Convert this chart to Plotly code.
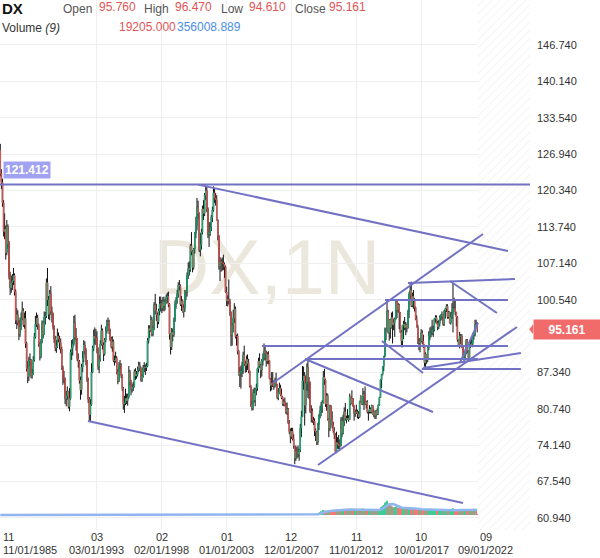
import pandas as pd
import plotly.graph_objects as go

# ---------------- data (monthly DX bars, Nov 1985 .. Jan 2022) ----------------
first_open = 127.6
close = [
    123.4, 121.8,
    118.1, 112.9, 113.3, 109.1, 113.8, 110.7, 104.8, 102.7, 103.6, 104.0, 104.9, 102.0,
    96.8, 97.8, 96.4, 94.3, 95.6, 97.1, 98.5, 96.0, 97.1, 92.6, 88.0, 86.6,
    89.4, 89.6, 86.8, 87.2, 89.6, 93.8, 96.1, 97.2, 95.9, 92.5, 90.2, 92.9,
    96.3, 94.2, 97.4, 97.6, 103.6, 100.5, 97.9, 101.6, 98.4, 97.8, 95.6, 93.4,
    91.8, 92.1, 93.9, 93.4, 92.8, 91.6, 88.2, 86.4, 86.1, 82.6, 83.1, 83.9,
    81.1, 82.6, 91.0, 91.8, 92.5, 96.3, 93.8, 93.5, 89.9, 89.3, 85.9, 84.2,
    88.3, 89.9, 92.3, 91.3, 89.4, 86.0, 82.5, 79.7, 81.5, 87.4, 91.7, 93.9,
    93.5, 93.6, 91.5, 88.4, 89.7, 92.5, 94.9, 92.3, 90.7, 93.2, 94.8, 96.2,
    96.5, 94.9, 93.3, 92.0, 92.9, 89.5, 89.4, 89.9, 87.4, 85.8, 88.5, 88.7,
    86.8, 84.4, 81.6, 81.8, 82.6, 82.2, 82.9, 87.4, 85.6, 84.3, 84.7, 84.8,
    87.5, 86.7, 87.0, 87.8, 88.6, 88.1, 86.0, 86.7, 88.2, 88.3, 88.2, 88.5,
    93.1, 95.3, 95.0, 96.9, 94.3, 95.4, 99.6, 98.6, 97.8, 96.6, 98.5, 99.7,
    99.8, 99.0, 100.2, 99.4, 100.1, 101.0, 101.1, 99.7, 94.3, 92.0, 94.6, 94.2,
    96.8, 99.7, 100.5, 101.6, 103.2, 103.0, 99.7, 100.3, 98.4, 99.0, 102.0, 101.9,
    105.0, 106.2, 106.0, 110.3, 109.3, 106.4, 109.7, 112.6, 114.0, 117.3, 116.2, 109.6,
    110.5, 112.8, 117.0, 116.2, 119.5, 120.3, 117.0, 112.4, 112.7, 113.7, 115.5, 116.8,
    119.9, 119.0, 118.7, 115.0, 112.0, 106.6, 107.4, 107.2, 107.2, 107.0, 106.5, 101.9,
    100.3, 100.6, 100.3, 98.3, 94.1, 95.9, 97.2, 98.8, 93.9, 93.9, 91.2, 86.9,
    87.3, 87.6, 87.6, 90.5, 88.9, 88.6, 89.7, 89.0, 87.6, 84.9, 81.6, 80.9,
    83.6, 82.3, 84.3, 84.6, 88.0, 89.4, 88.6, 87.8, 89.4, 90.0, 91.2, 90.9,
    89.4, 90.6, 89.5, 86.2, 85.0, 85.4, 85.2, 84.9, 85.9, 85.2, 82.8, 83.7,
    84.5, 83.3, 82.8, 81.6, 82.0, 81.4, 80.1, 80.7, 78.2, 76.6, 75.7, 76.7,
    75.3, 74.0, 71.8, 73.0, 72.9, 72.5, 73.3, 77.3, 79.3, 85.8, 86.7, 81.4,
    85.3, 88.3, 85.7, 85.6, 80.3, 80.3, 78.7, 78.5, 76.8, 76.5, 74.7, 77.9,
    79.5, 80.4, 81.2, 81.9, 86.5, 86.0, 81.6, 83.1, 78.9, 77.2, 81.2, 79.0,
    77.7, 76.7, 76.0, 73.0, 74.6, 74.3, 74.1, 74.1, 78.6, 76.3, 78.4, 80.2,
    79.0, 78.8, 79.0, 78.8, 83.0, 81.7, 82.6, 81.3, 79.9, 80.1, 80.2, 79.8,
    79.3, 82.1, 83.0, 81.6, 83.4, 83.1, 81.6, 82.0, 80.2, 80.2, 80.7, 80.2,
    81.3, 79.7, 80.1, 79.5, 80.4, 79.8, 81.5, 82.8, 86.0, 87.0, 88.4, 90.3,
    94.8, 95.3, 98.4, 94.6, 96.9, 95.5, 97.3, 96.0, 96.4, 97.0, 100.2, 98.7,
    99.6, 98.2, 94.6, 93.1, 95.9, 96.1, 95.5, 96.0, 95.4, 98.4, 101.5, 102.2,
    99.5, 101.1, 100.4, 99.1, 97.0, 95.6, 92.9, 92.7, 93.1, 94.5, 93.0, 92.1,
    89.1, 90.6, 89.9, 91.8, 94.0, 94.5, 94.5, 95.1, 95.1, 97.1, 97.3, 96.2,
    95.6, 96.2, 97.3, 97.5, 97.8, 96.1, 98.5, 98.9, 99.4, 97.4, 98.3, 96.4,
    97.4, 98.1, 99.0, 99.0, 98.3, 97.4, 93.3, 92.1, 93.9, 94.0, 91.9, 89.9,
    90.6, 90.9, 93.2, 91.3, 90.0, 92.4, 92.2, 92.6, 94.2, 94.1, 96.0, 95.76,
    95.161,
]
high = [
    128.8, 124.2,
    122.5, 118.6, 116.2, 114.0, 115.0, 114.2, 111.2, 105.6, 104.9, 105.2, 106.3, 105.3,
    102.4, 99.0, 98.6, 96.8, 97.3, 98.2, 100.2, 99.0, 98.2, 98.5, 92.9, 89.4,
    90.2, 90.8, 89.8, 88.0, 90.3, 94.5, 97.6, 98.2, 97.8, 96.2, 92.8, 93.4,
    96.8, 96.6, 98.4, 98.3, 104.4, 106.3, 101.2, 102.3, 103.0, 99.3, 98.2, 95.9,
    94.0, 93.2, 95.3, 94.6, 94.0, 93.5, 92.0, 88.6, 87.6, 86.4, 84.0, 84.8,
    84.0, 84.5, 91.5, 93.2, 93.4, 97.6, 97.8, 95.4, 93.6, 90.8, 89.6, 86.6,
    88.9, 91.2, 93.2, 93.0, 91.8, 89.6, 86.4, 82.9, 82.5, 89.0, 92.2, 95.1,
    95.5, 95.2, 94.8, 91.9, 90.5, 93.2, 96.0, 95.3, 92.8, 93.6, 95.7, 96.9,
    97.3, 96.9, 95.3, 93.8, 93.9, 93.3, 90.4, 91.1, 90.3, 87.9, 89.2, 89.6,
    89.0, 87.0, 84.7, 83.1, 84.4, 83.5, 83.5, 88.5, 87.8, 86.0, 85.3, 85.6,
    87.9, 88.1, 87.6, 88.4, 89.3, 89.2, 88.4, 87.0, 88.7, 89.2, 88.8, 89.1,
    93.6, 95.9, 95.9, 97.7, 97.4, 95.8, 100.1, 101.6, 99.8, 98.2, 98.9, 101.1,
    101.1, 100.5, 101.0, 101.1, 100.6, 101.5, 101.8, 102.0, 99.9, 94.4, 95.4, 95.3,
    97.3, 100.4, 101.0, 102.3, 103.7, 104.1, 103.3, 101.2, 100.6, 99.7, 102.3, 102.2,
    105.5, 107.3, 107.5, 110.6, 112.8, 109.5, 109.9, 112.8, 115.6, 119.0, 118.5, 116.4,
    112.6, 113.4, 117.6, 118.6, 119.9, 121.0, 121.2, 117.3, 114.6, 114.6, 115.9, 117.4,
    121.1, 120.7, 119.9, 119.5, 115.1, 112.3, 108.3, 108.0, 108.2, 108.7, 107.3, 106.7,
    102.9, 101.3, 104.2, 100.7, 98.4, 96.3, 98.7, 99.9, 99.3, 94.2, 94.4, 91.4,
    88.3, 88.6, 89.3, 91.1, 92.2, 89.4, 90.4, 90.6, 89.8, 87.7, 85.0, 82.1,
    84.3, 84.6, 84.5, 85.3, 88.2, 90.0, 90.8, 88.9, 89.8, 90.8, 92.6, 92.1,
    91.3, 91.0, 91.2, 89.5, 86.3, 87.4, 87.4, 85.9, 86.4, 87.3, 85.2, 84.5,
    85.5, 85.1, 84.4, 83.0, 82.5, 82.8, 81.8, 81.9, 80.9, 78.7, 77.2, 77.3,
    77.3, 76.1, 74.0, 74.1, 73.8, 74.1, 73.5, 78.0, 80.4, 88.5, 88.4, 87.4,
    86.8, 89.0, 89.6, 86.5, 85.6, 81.4, 80.8, 79.3, 79.0, 77.2, 76.7, 78.2,
    79.8, 81.3, 82.0, 82.3, 87.6, 88.0, 86.2, 83.6, 83.5, 79.0, 81.5, 81.4,
    80.3, 78.4, 77.4, 76.3, 76.6, 75.6, 76.0, 75.2, 79.2, 79.3, 79.7, 81.0,
    81.8, 79.5, 80.7, 79.6, 83.5, 83.0, 84.1, 82.7, 81.3, 80.6, 81.5, 80.6,
    80.3, 82.2, 83.2, 83.0, 84.5, 84.0, 84.8, 82.2, 82.3, 80.4, 81.4, 81.0,
    81.5, 81.4, 80.6, 80.3, 80.5, 80.8, 81.5, 82.9, 86.1, 87.0, 88.5, 90.3,
    95.5, 95.3, 100.4, 98.7, 97.0, 97.0, 98.2, 98.4, 97.0, 97.3, 100.5, 100.3,
    100.0, 99.8, 98.3, 95.0, 95.9, 96.7, 97.4, 96.5, 96.2, 98.7, 101.9, 103.6,
    103.8, 101.8, 102.3, 100.8, 99.3, 97.7, 96.0, 93.6, 93.6, 95.2, 95.0, 94.2,
    92.4, 91.0, 90.6, 91.9, 94.8, 95.5, 95.7, 96.9, 95.8, 97.2, 97.7, 97.7,
    96.7, 96.9, 97.7, 97.9, 98.4, 97.8, 98.7, 99.0, 99.7, 99.7, 98.5, 98.4,
    98.3, 99.9, 103.5, 100.9, 100.6, 98.3, 97.5, 93.4, 94.7, 94.3, 94.3, 92.0,
    91.0, 91.6, 93.4, 93.4, 91.4, 92.4, 93.2, 93.7, 94.5, 94.6, 96.9, 96.9,
    96.47,
]
low = [
    122.9, 120.6,
    117.4, 112.0, 111.5, 107.8, 108.6, 109.8, 104.2, 101.4, 101.8, 102.3, 103.2, 101.3,
    96.1, 95.2, 95.9, 93.2, 93.8, 95.0, 96.8, 95.6, 95.3, 91.8, 87.5, 85.4,
    85.8, 88.5, 86.3, 86.2, 86.9, 89.3, 93.5, 95.6, 95.1, 92.0, 89.5, 89.9,
    92.6, 93.5, 94.2, 96.0, 97.2, 99.4, 97.0, 96.8, 97.8, 96.4, 95.1, 92.7,
    91.2, 90.9, 91.8, 92.8, 91.5, 90.8, 87.8, 85.1, 85.4, 81.6, 81.2, 82.4,
    80.8, 80.3, 82.4, 89.6, 90.4, 92.2, 93.2, 91.3, 89.4, 88.2, 85.3, 82.4,
    83.3, 87.4, 89.2, 90.6, 88.6, 85.6, 81.8, 78.6, 78.4, 81.3, 87.2, 91.2,
    92.4, 92.3, 90.8, 87.8, 87.2, 89.3, 92.2, 91.5, 89.4, 90.4, 92.8, 94.4,
    95.8, 94.3, 93.0, 91.7, 91.1, 89.2, 88.6, 89.1, 87.0, 85.2, 85.6, 87.9,
    86.3, 84.0, 80.6, 80.0, 81.4, 81.6, 81.3, 82.6, 85.0, 83.2, 83.7, 84.0,
    84.6, 86.0, 86.2, 86.6, 87.4, 87.6, 85.7, 85.6, 86.4, 87.4, 86.9, 87.6,
    88.3, 92.6, 93.6, 94.7, 93.9, 93.9, 95.0, 97.9, 96.7, 95.4, 96.1, 97.7,
    98.4, 98.1, 98.5, 98.4, 98.6, 99.8, 100.0, 99.2, 93.3, 90.6, 91.4, 93.0,
    93.8, 96.5, 98.9, 99.8, 100.9, 102.2, 99.4, 98.5, 98.2, 97.3, 98.3, 100.5,
    101.1, 104.3, 104.9, 105.6, 108.6, 105.5, 106.0, 108.9, 111.7, 113.1, 115.1, 109.2,
    108.4, 109.6, 112.4, 115.0, 115.7, 118.6, 116.4, 111.7, 110.1, 112.1, 113.0, 114.6,
    116.5, 118.1, 117.6, 114.9, 111.3, 106.0, 103.9, 105.6, 105.8, 105.9, 104.5, 101.8,
    99.4, 99.3, 99.7, 97.6, 92.1, 92.2, 94.6, 96.3, 93.5, 92.2, 90.6, 86.8,
    84.7, 84.4, 86.5, 87.1, 88.5, 87.3, 87.4, 87.8, 87.2, 84.6, 81.1, 80.4,
    80.5, 81.9, 81.2, 83.2, 84.0, 87.3, 88.2, 86.3, 86.6, 88.6, 89.5, 89.6,
    88.4, 88.9, 88.8, 86.1, 83.9, 84.1, 84.7, 84.2, 84.6, 84.9, 82.5, 82.3,
    83.5, 83.1, 82.5, 81.3, 81.2, 81.2, 79.8, 79.6, 78.0, 76.2, 74.5, 75.3,
    75.0, 73.5, 70.7, 71.3, 71.7, 71.9, 71.3, 72.9, 75.6, 79.3, 84.2, 77.7,
    79.9, 84.0, 82.7, 82.5, 80.0, 78.3, 78.2, 77.8, 75.8, 74.9, 74.2, 74.2,
    76.9, 79.0, 79.4, 80.0, 81.7, 85.1, 81.1, 80.4, 78.6, 75.6, 76.7, 78.9,
    77.2, 76.4, 75.3, 72.8, 72.7, 73.5, 73.4, 73.4, 73.9, 75.6, 76.1, 77.6,
    78.6, 78.1, 78.7, 78.4, 78.7, 81.4, 81.6, 81.1, 78.6, 79.3, 79.8, 79.0,
    78.9, 79.1, 81.9, 81.5, 81.4, 80.5, 81.5, 80.8, 79.9, 78.6, 79.9, 79.9,
    79.9, 79.7, 79.2, 78.9, 78.9, 79.6, 79.7, 81.3, 82.7, 84.5, 86.8, 87.6,
    90.1, 93.2, 95.1, 94.4, 93.1, 93.5, 95.3, 92.6, 95.0, 93.8, 97.0, 97.2,
    98.2, 95.2, 94.5, 91.9, 91.9, 93.4, 95.0, 94.1, 94.6, 95.3, 97.2, 100.7,
    99.2, 99.2, 98.9, 98.4, 96.8, 95.5, 92.5, 91.4, 91.0, 92.8, 92.5, 91.8,
    88.4, 88.2, 88.9, 89.2, 91.4, 93.2, 93.7, 94.1, 93.8, 94.8, 96.4, 96.1,
    95.0, 95.2, 95.7, 96.7, 96.9, 95.8, 95.8, 97.1, 98.3, 97.1, 97.1, 96.2,
    96.0, 97.1, 94.6, 98.8, 97.7, 95.7, 92.9, 92.0, 91.7, 92.5, 91.8, 89.7,
    89.2, 89.7, 90.6, 90.9, 89.5, 89.5, 91.8, 92.0, 91.9, 93.3, 93.9, 95.5,
    94.61,
]
# monthly volume (thousands of contracts) from Jan 2008 on; earlier months have no volume
volume_start = "2008-01-01"
volume_k = [
    20, 25, 30, 22, 18, 20, 22, 30, 40, 50, 45, 35,
    30, 28, 35, 30, 32, 40, 38, 42, 45, 50, 60, 90,
    150, 200, 260, 230, 350, 320, 300, 280, 300, 290, 310, 280,
    300, 280, 320, 350, 380, 340, 330, 360, 420, 380, 400, 390,
    380, 360, 380, 350, 420, 400, 380, 360, 350, 330, 340, 320,
    350, 380, 400, 370, 450, 420, 380, 360, 380, 360, 350, 340,
    360, 380, 350, 330, 340, 320, 380, 420, 550, 600, 650, 700,
    850, 900, 1000, 800, 750, 700, 650, 600, 550, 520, 600, 500,
    520, 480, 500, 450, 470, 480, 420, 400, 420, 450, 560, 500,
    480, 420, 450, 430, 420, 400, 410, 380, 400, 390, 380, 350,
    420, 400, 380, 370, 420, 400, 380, 390, 360, 380, 370, 350,
    340, 330, 340, 320, 330, 340, 320, 330, 310, 320, 300, 290,
    320, 350, 480, 350, 320, 330, 360, 340, 330, 320, 300, 310,
    340, 330, 350, 320, 390, 400, 380, 390, 410, 400, 420, 395,
    19.205,
]

price_tick_values = [60.94, 67.54, 74.14, 80.74, 87.34, 93.94, 100.54, 107.14,
                     113.74, 120.34, 126.94, 133.54, 140.14, 146.74]
# 93.940 sits under the last-price marker in the reference, so its label is not shown
price_tick_labels = ["60.940", "67.540", "74.140", "80.740", "87.340", "", "100.540",
                     "107.140", "113.740", "120.340", "126.940", "133.540", "140.140", "146.740"]
x_tick_dates = ["1985-11-01", "1993-03-01", "1998-02-01", "2003-01-01",
                "2007-12-01", "2012-11-01", "2017-10-01", "2022-09-01"]
x_tick_top = ["11", "03", "02", "01", "12", "11", "10", "09"]
x_tick_bottom = ["11/01/1985", "03/01/1993", "02/01/1998", "01/01/2003",
                 "12/01/2007", "11/01/2012", "10/01/2017", "09/01/2022"]

# drawn trend lines (start date, start price, end date, end price)
trend_x0 = ["2000-10-28", "1992-06-25", "2005-09-04", "2008-12-10", "2006-07-07", "2008-12-10",
            "2009-12-04", "2015-01-04", "2016-10-01", "2019-12-07", "2014-10-10", "2017-10-22",
            "2017-11-22", "2020-09-10"]
trend_y0 = [121.41, 78.54, 92.14, 89.78, 85.43, 89.78, 70.55, 100.48, 103.57, 103.93, 93.05,
            87.97, 88.15, 89.06]
trend_x1 = ["2024-05-01", "2020-12-04", "2024-05-01", "2022-01-22", "2022-06-10", "2018-08-25",
            "2025-01-07", "2024-05-01", "2024-11-13", "2023-07-01", "2017-11-22", "2025-04-25",
            "2025-04-25", "2022-01-22"]
trend_y1 = [109.37, 63.66, 92.14, 89.78, 112.46, 80.17, 95.59, 100.48, 104.29, 98.13, 87.24,
            87.97, 90.87, 96.31]
level_line = 121.412
last_price = 95.161
ohlc_header = ["95.760", "96.470", "94.610", "95.161"]
volume_header = ["19205.000", "356008.889"]

# ---------------- styling ----------------
GREEN = "#1fc184"
RED = "#f2625c"
LINE = "#7272c4"
GRID = "#efefef"
FONT = "Liberation Sans, Arial, sans-serif"
W, H = 600, 558
PLOT_W, PLOT_H = 530, 530
Y_MIN, Y_MAX = 58.76, 154.90
X_START, X_END = pd.Timestamp("1985-10-24"), pd.Timestamp("2026-01-02")
VOL_PER_PX = 70000
VOL_BASE_PX = 15


def pxx(p):
    return p / PLOT_W


def pxy(p):
    return 1 - p / PLOT_H


def px_date(p):
    return X_START + (X_END - X_START) * (p / PLOT_W)


def px_val(p):
    return Y_MAX - (Y_MAX - Y_MIN) * (p / PLOT_H)


months = pd.date_range("1985-11-01", periods=len(close), freq="MS")
opens = [first_open] + close[:-1]
body_top = [max(o, c) for o, c in zip(opens, close)]
body_bot = [min(o, c) for o, c in zip(opens, close)]

vol = pd.Series(0.0, index=months)
vstart = months.get_loc(pd.Timestamp(volume_start))
vol.iloc[vstart:vstart + len(volume_k)] = [v * 1000 for v in volume_k]
vol_ma = vol.rolling(9, min_periods=1).mean()
vol_months = months[vstart:]
vol_vals = vol.iloc[vstart:]
vol_colors = [GREEN if close[i] >= opens[i] else RED for i in range(vstart, len(close))]

fig = go.Figure()

# future (hatched) area
h0, h1 = pd.Timestamp("2022-01-17"), X_END
fig.add_trace(go.Bar(
    x=[h0 + (h1 - h0) / 2], y=[Y_MAX - Y_MIN], base=[Y_MIN],
    width=[(h1 - h0).total_seconds() * 1000],
    marker=dict(color="white", line=dict(width=0),
                pattern=dict(shape="/", fgcolor="#e6e6e6", bgcolor="white", size=6, solidity=0.16)),
    hoverinfo="skip"))

# volume bars
fig.add_trace(go.Bar(x=vol_months, y=vol_vals, yaxis="y2", marker=dict(color=vol_colors, line=dict(width=0)),
                     width=20 * 86400000, opacity=0.85, hoverinfo="skip"))

# candles: black wicks, then coloured bodies
fig.add_trace(go.Candlestick(
    x=months, open=opens, high=high, low=low, close=close,
    increasing=dict(line=dict(color="#111111", width=1), fillcolor="#111111"),
    decreasing=dict(line=dict(color="#111111", width=1), fillcolor="#111111"),
    hoverinfo="skip"))
fig.add_trace(go.Candlestick(
    x=months, open=opens, high=body_top, low=body_bot, close=close,
    increasing=dict(line=dict(color=GREEN, width=0.6), fillcolor=GREEN),
    decreasing=dict(line=dict(color=RED, width=0.6), fillcolor=RED),
    hoverinfo="skip"))

# volume moving average
fig.add_trace(go.Scatter(x=months, y=vol_ma, yaxis="y2", mode="lines",
                         line=dict(color="#8fb6ef", width=2.5), hoverinfo="skip"))

shapes = []
# watermark (below data)
shapes.append(dict(type="rect", xref="x", yref="y",
                   x0=px_date(150), x1=px_date(384), y0=px_val(298), y1=px_val(222),
                   line=dict(width=0), fillcolor="rgba(0,0,0,0)", layer="below",
                   label=dict(text="DX,1N", textposition="middle center",
                              font=dict(size=77, color="#ebe7dc", family=FONT))))
# horizontal level line
shapes.append(dict(type="line", xref="paper", yref="y", x0=0, x1=1, y0=level_line, y1=level_line,
                   line=dict(color=LINE, width=2)))
for a, b, c, d in zip(trend_x0, trend_y0, trend_x1, trend_y1):
    shapes.append(dict(type="line", xref="x", yref="y", x0=a, y0=b, x1=c, y1=d,
                       line=dict(color=LINE, width=2)))
# arrow tip of last-price marker
dy = 5 / (PLOT_H / (Y_MAX - Y_MIN))
shapes.append(dict(type="path", xref="paper", yref="y",
                   path=f"M 1.006,{last_price + dy} L {1.006 - 4 / PLOT_W},{last_price} L 1.006,{last_price - dy} Z",
                   fillcolor="#f26b6b", line=dict(width=0)))

ann = []


def text(t, x, y, color="#555555", size=12, anchor="left"):
    ann.append(dict(text=t, xref="paper", yref="paper", x=pxx(x), y=pxy(y), xanchor=anchor,
                    yanchor="middle", showarrow=False, font=dict(size=size, color=color, family=FONT)))


# header
text("<b>DX</b>", 0, 9, "#111111", 15)
text("Open", 61, 9)
text(ohlc_header[0], 97, 7, "#e05555")
text("High", 142, 9)
text(ohlc_header[1], 173, 7, "#e05555")
text("Low", 219, 9)
text(ohlc_header[2], 247, 7, "#e05555")
text("Close", 293, 9)
text(ohlc_header[3], 327, 7, "#e05555")
text("Volume <i>(9)</i>", 0, 28, "#333333")
text(volume_header[0], 117, 27, "#e05555")
text(volume_header[1], 175, 27, "#4a8ee6")

# x-axis labels
for i, (d, t1, t2) in enumerate(zip(x_tick_dates, x_tick_top, x_tick_bottom)):
    if i == 0:
        for t, yy in ((t1, 537), (t2, 550)):
            ann.append(dict(text=t, xref="paper", yref="paper", x=pxx(1), y=pxy(yy), xanchor="left",
                            yanchor="middle", showarrow=False, font=dict(size=11, color="#333333", family=FONT)))
    else:
        for t, yy in ((t1, 537), (t2, 550)):
            ann.append(dict(text=t, xref="x", yref="paper", x=d, y=pxy(yy), xanchor="center",
                            yanchor="middle", showarrow=False, font=dict(size=11, color="#333333", family=FONT)))

# level label
ann.append(dict(text=f"<b>{level_line:.3f}</b>", xref="paper", yref="y", x=pxx(3), y=level_line,
                xanchor="left", yanchor="middle", yshift=15, showarrow=False, bgcolor="#a2a2f2",
                borderpad=1, font=dict(size=12, color="white", family=FONT)))
# last price label
ann.append(dict(text=f"<b>{last_price:.3f}</b>", xref="paper", yref="y", x=1, y=last_price,
                xanchor="left", yanchor="middle", xshift=3, showarrow=False, bgcolor="#f26b6b",
                width=64, height=17, borderpad=1, align="center",
                font=dict(size=12, color="white", family=FONT)))

fig.update_layout(
    width=W, height=H, margin=dict(l=0, r=W - PLOT_W, t=0, b=H - PLOT_H),
    paper_bgcolor="white", plot_bgcolor="white", showlegend=False, barmode="overlay",
    font=dict(family=FONT, size=11, color="#333333"),
    xaxis=dict(type="date", range=[X_START, X_END], tickvals=x_tick_dates, showticklabels=False,
               showgrid=True, gridcolor=GRID, gridwidth=1, zeroline=False, showline=False, ticks="",
               rangeslider=dict(visible=False), fixedrange=True, automargin=False),
    yaxis=dict(side="right", range=[Y_MIN, Y_MAX], tickvals=price_tick_values, ticktext=price_tick_labels,
               showgrid=True, gridcolor=GRID, gridwidth=1, zeroline=False, showline=False, ticks="",
               tickfont=dict(size=11, color="#333333", family=FONT), ticklabelstandoff=6,
               automargin=False, fixedrange=True),
    yaxis2=dict(overlaying="y", range=[-VOL_BASE_PX * VOL_PER_PX, (PLOT_H - VOL_BASE_PX) * VOL_PER_PX],
                visible=False, fixedrange=True),
    shapes=shapes, annotations=ann,
)

fig.write_html("out.html")
